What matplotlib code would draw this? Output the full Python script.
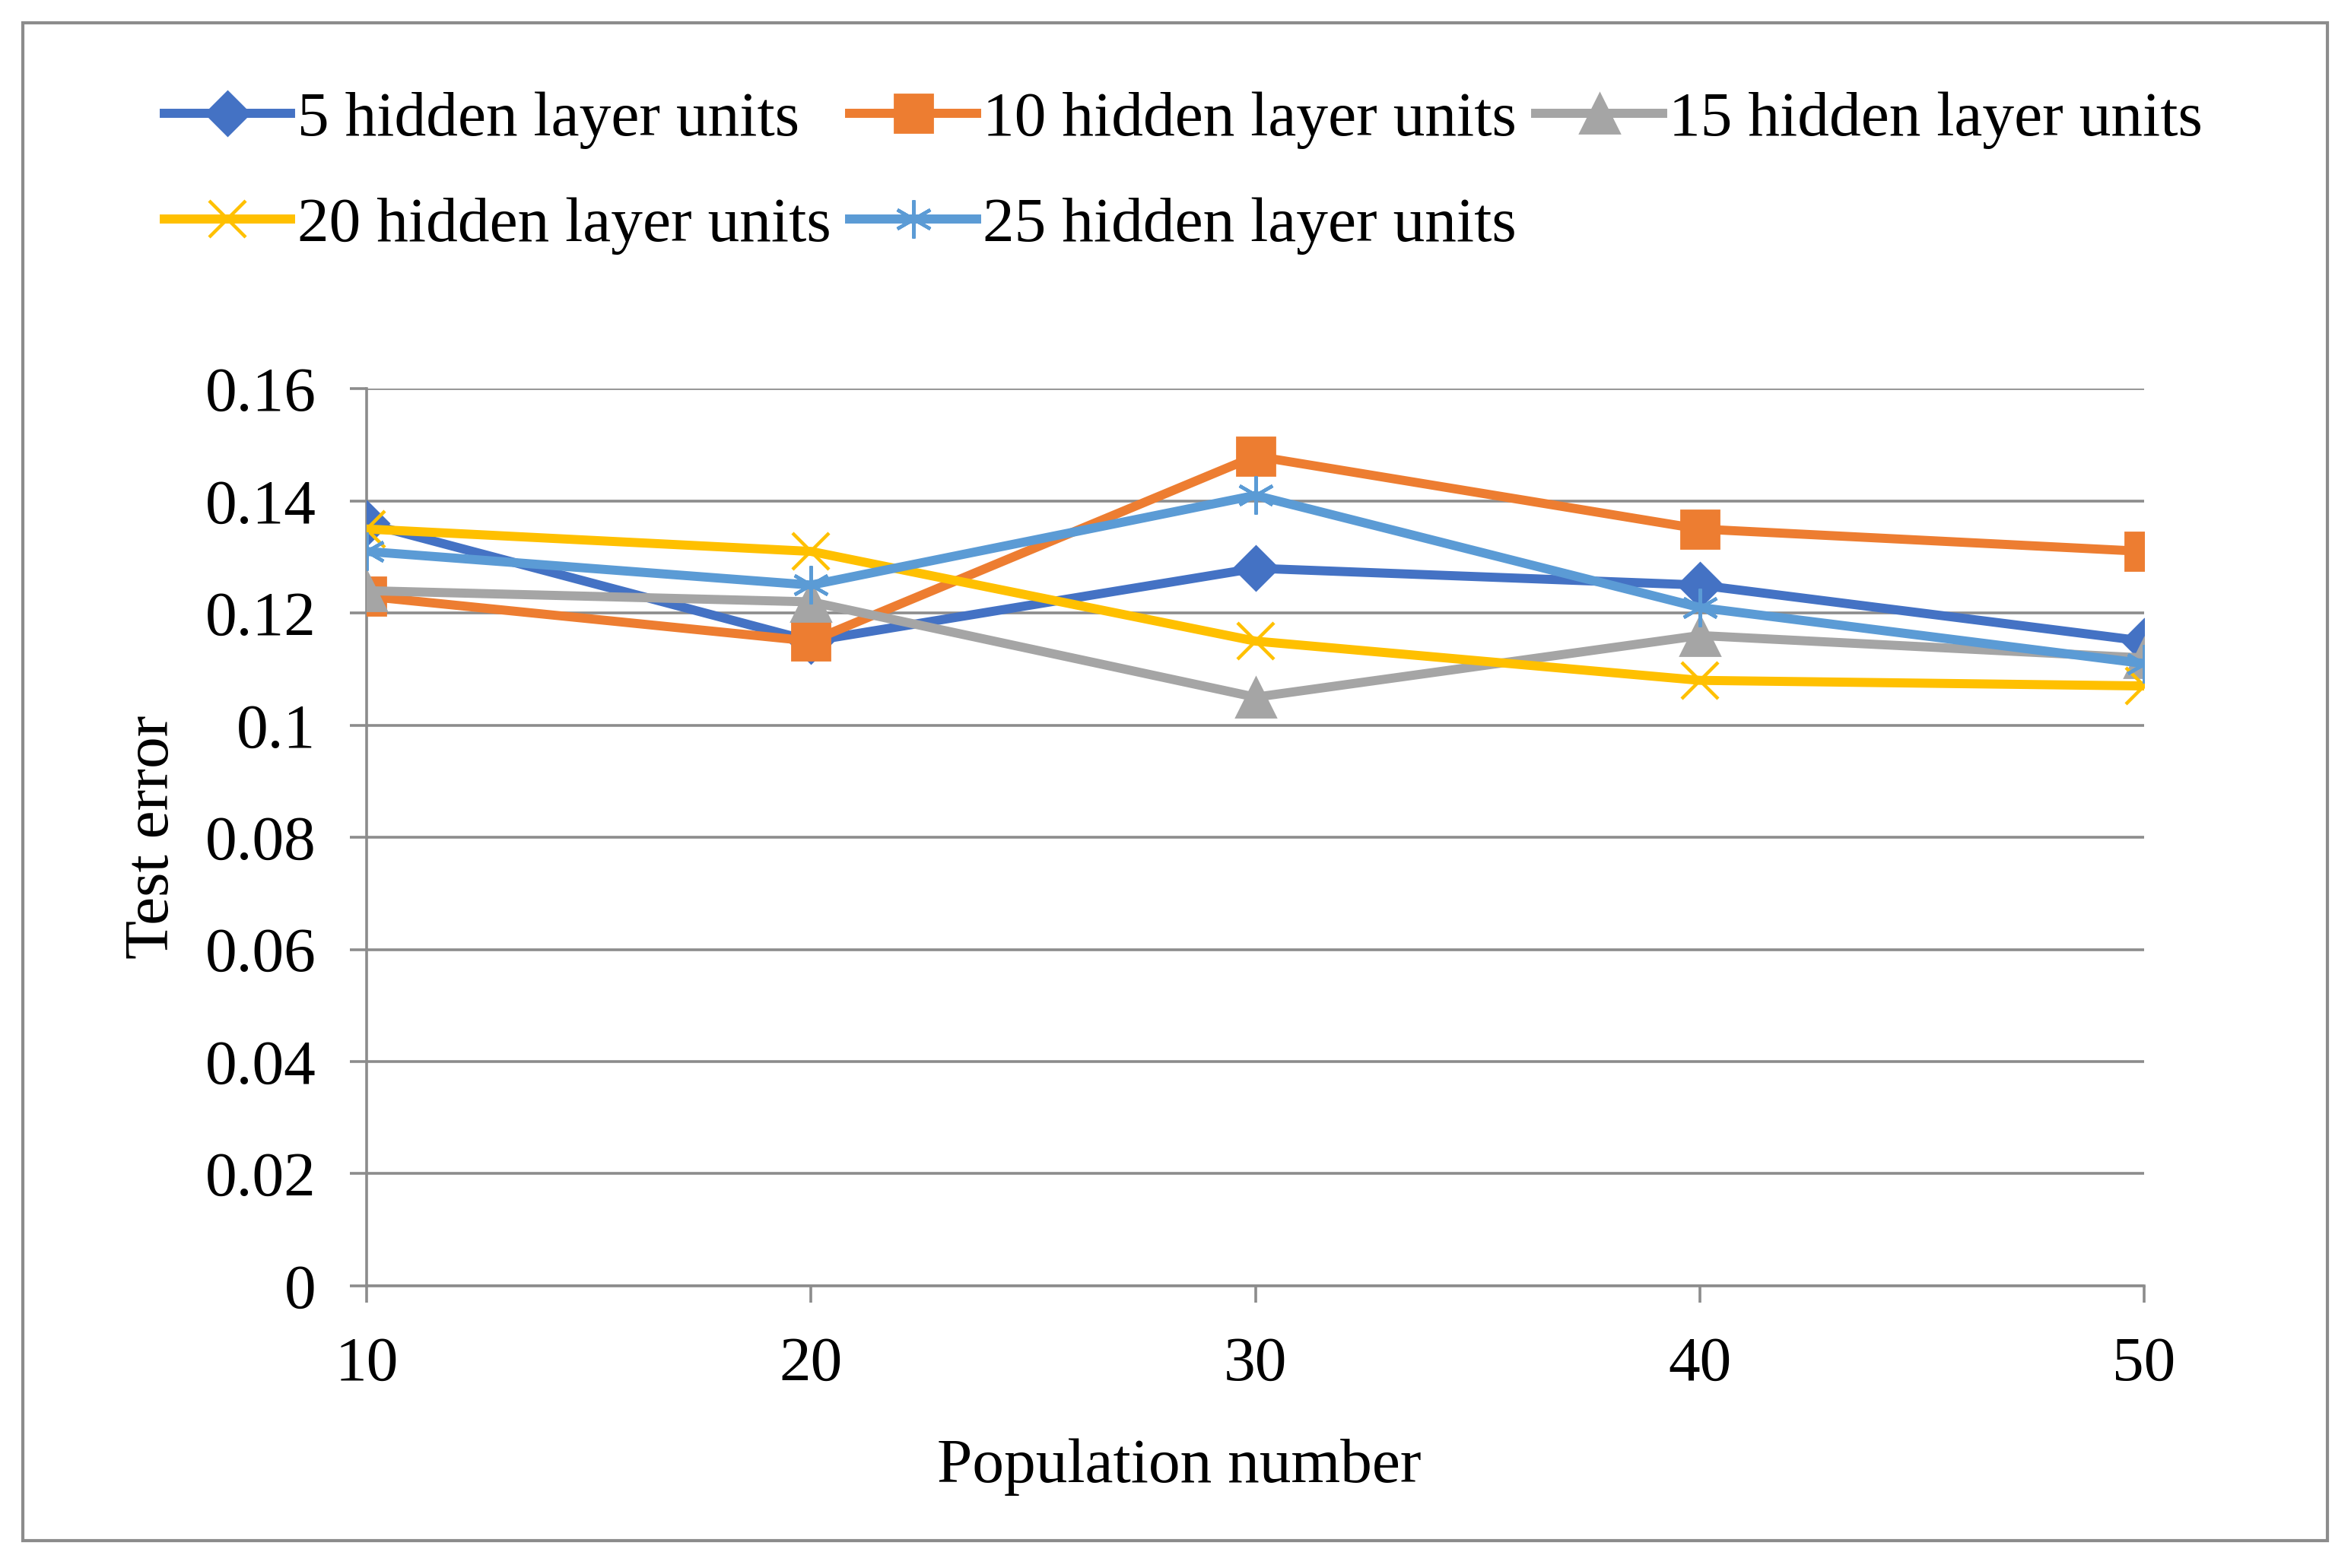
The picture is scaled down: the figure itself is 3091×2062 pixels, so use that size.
import matplotlib.pyplot as plt
from matplotlib.patches import Rectangle

plt.rcParams['font.family'] = ['Liberation Serif', 'DejaVu Serif']

population = [10, 20, 30, 40, 50]
err_5 = [0.136, 0.115, 0.128, 0.125, 0.115]
err_10 = [0.123, 0.115, 0.148, 0.135, 0.131]
err_15 = [0.124, 0.122, 0.105, 0.116, 0.112]
err_20 = [0.135, 0.131, 0.115, 0.108, 0.107]
err_25 = [0.131, 0.125, 0.141, 0.121, 0.111]
labels = ['5 hidden layer units', '10 hidden layer units', '15 hidden layer units',
          '20 hidden layer units', '25 hidden layer units']

fig = plt.figure(figsize=(15.455, 10.31), dpi=200)
ax = fig.add_axes([0.156, 0.180, 0.756, 0.572])

lw = 4.3
h5, = ax.plot(population, err_5, color='#4472C4', lw=lw, marker='D', ms=15, zorder=3)
h10, = ax.plot(population, err_10, color='#ED7D31', lw=lw, marker='s', ms=18, zorder=3)
h15, = ax.plot(population, err_15, color='#A5A5A5', lw=lw, marker='^', ms=19, zorder=3)
h20, = ax.plot(population, err_20, color='#FFC000', lw=lw, marker='x', ms=17, mew=1.6, zorder=3)
h25, = ax.plot(population, err_25, color='#5B9BD5', lw=lw, marker=(6, 2, 0), ms=18, mew=1.6, zorder=3)

ax.set_xlim(10, 50)
ax.set_ylim(0, 0.16)
ax.set_xticks(population)
ax.set_yticks([0, 0.02, 0.04, 0.06, 0.08, 0.1, 0.12, 0.14, 0.16])
ax.set_yticklabels(['0', '0.02', '0.04', '0.06', '0.08', '0.1', '0.12', '0.14', '0.16'])
ax.yaxis.grid(True, color='#8C8C8C', lw=1.3)
ax.set_axisbelow(True)
for s in ['top', 'right']:
    ax.spines[s].set_visible(False)
for s in ['left', 'bottom']:
    ax.spines[s].set_color('#8C8C8C')
    ax.spines[s].set_linewidth(1.3)
ax.tick_params(axis='both', labelsize=30, color='#8C8C8C', width=1.3, length=8, pad=16)

ax.set_xlabel('Population number', fontsize=30)
ax.set_ylabel('Test error', fontsize=30)
ax.xaxis.set_label_coords(0.457, -0.17)
ax.yaxis.set_label_coords(-0.104, 0.5)

# row-major order for the legend
fig.legend([h5, h20, h10, h25, h15], [labels[0], labels[3], labels[1], labels[4], labels[2]],
           ncol=3, loc='upper left', bbox_to_anchor=(0.059, 0.958), frameon=False,
           fontsize=30, handlelength=2.0, handletextpad=0.1, columnspacing=0.3,
           labelspacing=0.75, borderaxespad=0)

fig.patches.append(Rectangle((0.0096, 0.0173), 0.9804, 0.9683, transform=fig.transFigure,
                             fill=False, edgecolor='#8C8C8C', lw=1.5))

fig.savefig('out.png', dpi=200)
